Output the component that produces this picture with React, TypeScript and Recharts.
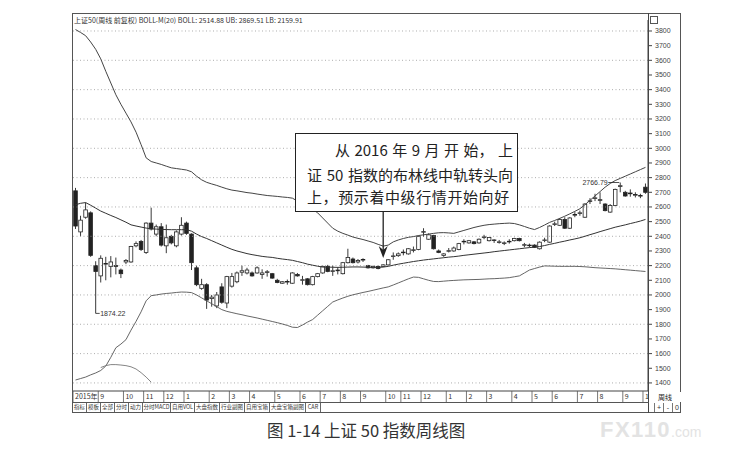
import React from 'react';
import { ComposedChart, Bar, Line, XAxis, YAxis, ReferenceLine, ReferenceDot } from 'recharts';

// SSE 50 weekly candles (index 0 = first week on the left)
const opens = [
  2710, 2430, 2530, 2560, 2200, 2130, 2210, 2195, 2200, 2170,
  2225, 2225, 2335, 2365, 2290, 2490, 2415, 2465, 2335, 2400,
  2335, 2415, 2490, 2415, 2185, 2045, 2070, 1975, 1925, 2055,
  1945, 2060, 2090, 2155, 2150, 2150, 2150, 2140, 2155, 2145,
  2100, 2080, 2088, 2080, 2140, 2100, 2110, 2070, 2125, 2150,
  2195, 2160, 2165, 2145, 2220, 2245, 2225, 2238, 2200, 2185,
  2195, 2195, 2205, 2262, 2268, 2290, 2280, 2305, 2310, 2430,
  2380, 2405, 2300, 2270, 2298, 2300, 2310, 2362, 2355, 2362,
  2355, 2392, 2370, 2375, 2360, 2352, 2362, 2370, 2385, 2340,
  2340, 2340, 2315, 2372, 2360, 2480, 2475, 2515, 2455, 2545,
  2555, 2530, 2640, 2660, 2645, 2620, 2565, 2610, 2740, 2700,
  2690, 2680, 2675, 2735,
];
const highs = [
  2730, 2540, 2630, 2570, 2230, 2270, 2260, 2265, 2255, 2180,
  2245, 2335, 2365, 2375, 2495, 2595, 2480, 2490, 2480, 2410,
  2440, 2530, 2500, 2420, 2200, 2110, 2080, 2000, 2020, 2080,
  2130, 2150, 2160, 2200, 2185, 2160, 2195, 2175, 2170, 2150,
  2110, 2095, 2105, 2155, 2150, 2130, 2115, 2130, 2150, 2200,
  2205, 2200, 2190, 2225, 2315, 2255, 2245, 2250, 2205, 2200,
  2200, 2210, 2245, 2290, 2290, 2310, 2320, 2330, 2405, 2455,
  2420, 2410, 2310, 2285, 2320, 2330, 2355, 2380, 2375, 2368,
  2385, 2410, 2395, 2380, 2375, 2365, 2380, 2390, 2390, 2355,
  2350, 2345, 2365, 2390, 2475, 2500, 2525, 2530, 2530, 2565,
  2575, 2625, 2660, 2690, 2700, 2625, 2620, 2725, 2766.79, 2710,
  2720, 2700, 2690, 2760,
];
const lows = [
  2450, 2400, 2520, 2260, 1874.22, 2085, 2100, 2120, 2140, 2115,
  2210, 2220, 2325, 2300, 2280, 2440, 2400, 2330, 2285, 2345,
  2325, 2405, 2410, 2170, 2060, 2035, 1905, 1920, 1910, 1940,
  1910, 2050, 2080, 2130, 2140, 2125, 2145, 2110, 2125, 2110,
  2080, 2075, 2070, 2075, 2125, 2070, 2065, 2065, 2120, 2145,
  2155, 2130, 2140, 2140, 2215, 2215, 2215, 2225, 2180, 2180,
  2175, 2190, 2200, 2240, 2260, 2270, 2275, 2290, 2305, 2395,
  2375, 2310, 2285, 2260, 2290, 2295, 2305, 2345, 2350, 2345,
  2350, 2380, 2365, 2355, 2350, 2340, 2350, 2365, 2365, 2325,
  2325, 2320, 2310, 2360, 2355, 2470, 2470, 2450, 2450, 2530,
  2540, 2525, 2620, 2640, 2620, 2570, 2560, 2605, 2700, 2670,
  2670, 2665, 2660, 2690,
];
const closes = [
  2470, 2510, 2580, 2270, 2160, 2250, 2215, 2225, 2195, 2145,
  2235, 2330, 2350, 2310, 2490, 2450, 2465, 2340, 2390, 2355,
  2430, 2475, 2420, 2220, 2070, 2070, 1965, 1985, 2000, 1950,
  2125, 2125, 2150, 2165, 2170, 2130, 2185, 2150, 2158, 2115,
  2085, 2090, 2092, 2150, 2130, 2104, 2070, 2125, 2145, 2195,
  2160, 2165, 2170, 2220, 2255, 2220, 2235, 2242, 2185, 2195,
  2180, 2205, 2240, 2266, 2280, 2292, 2315, 2308, 2400, 2432,
  2410, 2315, 2290, 2280, 2302, 2320, 2350, 2366, 2370, 2350,
  2380, 2396, 2392, 2372, 2362, 2355, 2366, 2385, 2370, 2343,
  2338, 2325, 2360, 2375, 2470, 2485, 2515, 2455, 2525, 2548,
  2560, 2620, 2642, 2662, 2650, 2575, 2610, 2720, 2745, 2675,
  2695, 2685, 2678, 2700,
];

// BOLL-M(20) bands
const upperBand = [
  3810, 3790, 3768, 3725, 3675, 3610, 3525, 3445, 3365, 3300,
  3240, 3180, 3110, 3025, 2935, 2910, 2900, 2890, 2878, 2867,
  2862, 2857, 2852, 2840, 2810, 2785, 2768, 2757, 2747, 2735,
  2724, 2715, 2710, 2704, 2698, 2694, 2688, 2683, 2678, 2675,
  2672, 2668, 2665, 2660, 2640, 2620, 2600, 2585, 2560, 2525,
  2490, 2455, 2435, 2420, 2408, 2395, 2386, 2378, 2368, 2358,
  2345, 2333, 2340, 2362, 2375, 2385, 2393, 2398, 2405, 2410,
  2415, 2420, 2424, 2425, 2423, 2420, 2430, 2440, 2450, 2460,
  2468, 2475, 2480, 2483, 2486, 2488, 2490, 2487, 2478, 2467,
  2455, 2446, 2460, 2477, 2495, 2508, 2522, 2537, 2553, 2570,
  2588, 2615, 2645, 2675, 2705, 2735, 2760, 2780, 2795, 2810,
  2825, 2840, 2855, 2870,
];
const midBand = [
  2615, 2625, 2630, 2612, 2592, 2572, 2557, 2542, 2528, 2512,
  2496, 2478, 2470, 2463, 2456, 2451, 2449, 2447, 2446, 2445,
  2445, 2445, 2445, 2435, 2415, 2398, 2385, 2370, 2355, 2340,
  2325, 2311, 2300, 2291, 2282, 2275, 2269, 2263, 2259, 2256,
  2250, 2245, 2241, 2236, 2228, 2220, 2210, 2203, 2196, 2190,
  2190, 2189, 2188, 2189, 2190, 2191, 2191, 2190, 2189, 2188,
  2188, 2190, 2195, 2203, 2210, 2216, 2222, 2228, 2233, 2238,
  2242, 2246, 2250, 2254, 2258, 2261, 2265, 2270, 2274, 2278,
  2282, 2286, 2290, 2295, 2299, 2303, 2307, 2311, 2315, 2319,
  2323, 2326, 2330, 2337, 2345, 2352, 2360, 2367, 2375, 2382,
  2390, 2400, 2411, 2421, 2432, 2442, 2452, 2462, 2470, 2478,
  2487, 2495, 2504, 2515,
];
const lowerBand = [
  1420, 1430, 1440, 1455, 1468, 1485, 1515, 1575, 1640, 1665,
  1695, 1760, 1820, 1885, 1960, 1995, 2000, 2006, 2010, 2013,
  2017, 2020, 2019, 2016, 2000, 1980, 1960, 1940, 1920, 1900,
  1888, 1880, 1872, 1865, 1857, 1850, 1843, 1835, 1827, 1819,
  1811, 1802, 1792, 1780, 1778, 1795, 1815, 1832, 1862, 1892,
  1922, 1952, 1966, 1979, 1991, 2001, 2009, 2017, 2024, 2032,
  2040, 2048, 2055, 2068, 2082, 2096, 2110, 2122, 2120, 2110,
  2100, 2092, 2091, 2094, 2097, 2099, 2101, 2103, 2104, 2105,
  2106, 2108, 2110, 2111, 2113, 2115, 2118, 2124, 2130, 2150,
  2170, 2180, 2190, 2198, 2197, 2196, 2195, 2195, 2195, 2195,
  2194, 2192, 2189, 2186, 2184, 2182, 2180, 2178, 2175, 2172,
  2169, 2166, 2163, 2160,
];
// short leftover band segment at the lower left
const earlyBandStart = 5;
const earlyBand = [1505, 1518, 1525, 1525, 1522, 1518, 1510, 1495, 1470, 1440, 1405];

const monthIdx = [0, 5, 10, 14, 18, 22, 27, 31, 35, 40, 45, 49, 53, 57, 62, 65, 69, 74, 78, 82, 87, 91, 95, 100, 104, 109, 113];
const monthNames = ['2015年', '9', '10', '11', '12', '1', '2', '3', '4', '5', '6', '7', '8', '9', '10', '11', '12', '1', '2', '3', '4', '5', '6', '7', '8', '9', '10'];

const priceTicks = [
  1400, 1500, 1600, 1700, 1800, 1900, 2000, 2100, 2200, 2300, 2400, 2500, 2600,
  2700, 2800, 2900, 3000, 3100, 3200, 3300, 3400, 3500, 3600, 3700, 3800,
];
const gridLevels = [1400, 1600, 1800, 2000, 2200, 2400, 2600, 2800, 3000, 3200, 3400, 3600, 3800];

const tabs = ['指标', '模板', '全部', '分时', '动力', '分时MACD', '自用VOL', '大盘指数', '行业副图', '自用宝箱', '大盘宝箱副图', 'CAR'];
const tabWidths = [14, 14, 14, 14, 14, 28, 24, 25, 25, 25, 36, 15];

const W = 747;
const H = 470;
const INK = '#222';
const CJK = '"Noto Sans CJK SC", "Noto Sans", sans-serif';

const rows = opens.map((o, i) => ({
  i,
  o,
  h: highs[i],
  l: lows[i],
  c: closes[i],
  range: [lows[i], highs[i]],
  ub: upperBand[i],
  mb: midBand[i],
  lb: lowerBand[i],
  eb: i >= earlyBandStart && i < earlyBandStart + earlyBand.length ? earlyBand[i - earlyBandStart] : null,
}));

function Candle(props: any) {
  const { x, y, width, height, payload } = props;
  if (!payload || x == null) return null;
  const { o, h, l, c } = payload;
  const top = Math.min(y, y + height);
  const hh = Math.abs(height);
  const span = h - l || 1;
  const toY = (v: number) => top + ((h - v) / span) * hh;
  const cx = x + width / 2;
  const bTop = toY(Math.max(o, c));
  const bBot = toY(Math.min(o, c));
  const up = c >= o;
  const bw = 3.6;
  return (
    <g>
      <line x1={cx} x2={cx} y1={top} y2={bTop} stroke={INK} strokeWidth={0.9} />
      <line x1={cx} x2={cx} y1={bBot} y2={top + hh} stroke={INK} strokeWidth={0.9} />
      <rect
        x={cx - bw / 2}
        y={bTop}
        width={bw}
        height={Math.max(bBot - bTop, 0.6)}
        fill={up ? '#fff' : INK}
        stroke={INK}
        strokeWidth={0.8}
      />
    </g>
  );
}

function MonthTick(props: any) {
  const { x, y, payload } = props;
  const k = monthIdx.indexOf(payload.value);
  const left = x - 2.5;
  return (
    <g>
      <line x1={left} x2={left} y1={y} y2={y + 11} stroke="#555" strokeWidth={0.8} />
      <text x={left + 2} y={y + 8} fontSize={7} fill="#333" fontFamily={CJK}>
        {monthNames[k]}
      </text>
    </g>
  );
}

export default function App() {
  return (
    <div
      style={{
        position: 'absolute',
        left: 0,
        top: 0,
        width: W,
        height: H,
        background: '#fff',
        overflow: 'hidden',
        fontFamily: '"Liberation Sans", Arial, sans-serif',
      }}
    >
      <div style={{ position: 'absolute', left: 0, top: 0 }}>
        <ComposedChart
          width={W}
          height={H}
          data={rows}
          margin={{ top: 20, right: 67, bottom: 68, left: 73 }}
          barCategoryGap={0}
          barGap={0}
        >
          {gridLevels.map((v) => (
            <ReferenceLine key={v} y={v} stroke="#999" strokeDasharray="1 2.5" strokeWidth={0.8} />
          ))}
          <XAxis
            dataKey="i"
            type="category"
            ticks={monthIdx}
            interval={0}
            tick={(p: any) => <MonthTick {...p} />}
            tickLine={false}
            tickSize={0}
            tickMargin={0}
            axisLine={{ stroke: '#444' }}
            height={11}
          />
          <YAxis
            orientation="right"
            domain={[1345, 3875]}
            allowDataOverflow
            ticks={priceTicks}
            interval={0}
            width={32}
            tickSize={4}
            tickMargin={3}
            tick={{ fontSize: 7, fill: '#444' }}
            tickLine={{ stroke: '#444' }}
            axisLine={{ stroke: '#444' }}
          />
          <Line type="linear" dataKey="ub" stroke="#444" strokeWidth={1} dot={false} isAnimationActive={false} />
          <Line type="linear" dataKey="mb" stroke="#333" strokeWidth={1} dot={false} isAnimationActive={false} />
          <Line type="linear" dataKey="lb" stroke="#555" strokeWidth={0.9} dot={false} isAnimationActive={false} />
          <Line type="linear" dataKey="eb" stroke="#777" strokeWidth={0.9} dot={false} isAnimationActive={false} />
          <Bar dataKey="range" shape={(p: any) => <Candle {...p} />} isAnimationActive={false} />
          <ReferenceDot
            x={4}
            y={1874.22}
            r={0}
            ifOverflow="visible"
            shape={(p: any) => (
              <g>
                <line x1={p.cx} x2={p.cx + 4} y1={p.cy} y2={p.cy} stroke={INK} strokeWidth={0.8} />
                <text x={p.cx + 4.5} y={p.cy + 2.5} fontSize={7} fill="#333">1874.22</text>
              </g>
            )}
          />
          <ReferenceDot
            x={108}
            y={2766.79}
            r={0}
            ifOverflow="visible"
            shape={(p: any) => (
              <g>
                <line x1={p.cx - 12} x2={p.cx - 1} y1={p.cy} y2={p.cy} stroke={INK} strokeWidth={0.8} />
                <text x={p.cx - 12.5} y={p.cy + 2.5} fontSize={7} fill="#333" textAnchor="end">2766.79</text>
              </g>
            )}
          />
          <ReferenceDot
            x={61}
            y={2252}
            r={0}
            ifOverflow="visible"
            shape={(p: any) => (
              <g>
                <line x1={p.cx} x2={p.cx} y1={p.cy - 46} y2={p.cy - 6} stroke={INK} strokeWidth={1.3} />
                <polygon
                  points={`${p.cx - 4.5},${p.cy - 12} ${p.cx},${p.cy - 8} ${p.cx + 4.5},${p.cy - 12} ${p.cx},${p.cy}`}
                  fill={INK}
                />
              </g>
            )}
          />
        </ComposedChart>
      </div>

      {/* software window frame */}
      <div style={{ position: 'absolute', left: 72, top: 13, width: 609, height: 400, border: '1px solid #555', boxSizing: 'border-box' }} />
      <div style={{ position: 'absolute', left: 648, top: 13, width: 0, height: 400, borderLeft: '1px solid #444' }} />
      <div style={{ position: 'absolute', left: 72, top: 402, width: 577, height: 0, borderTop: '1px solid #555' }} />
      <div style={{ position: 'absolute', left: 650, top: 16, width: 6, height: 6, border: '1px solid #555' }} />

      {/* header */}
      <div
        style={{
          position: 'absolute',
          left: 74,
          top: 16,
          fontSize: 7,
          lineHeight: '8px',
          color: '#333',
          fontFamily: CJK,
          whiteSpace: 'nowrap',
          background: '#fff',
        }}
      >
        上证50(周线 前复权) BOLL-M(20) BOLL: 2514.88 UB: 2869.51 LB: 2159.91
      </div>

      {/* tab row */}
      <div style={{ position: 'absolute', left: 73, top: 403, height: 9, display: 'flex', fontFamily: CJK, fontSize: 5.5, lineHeight: '9px', color: '#333' }}>
        {tabs.map((t, k) => (
          <div key={t} style={{ width: tabWidths[k], flex: 'none', borderRight: '1px solid #666', textAlign: 'center', boxSizing: 'border-box', whiteSpace: 'nowrap' }}>
            {t}
          </div>
        ))}
      </div>

      {/* right bottom corner */}
      <div style={{ position: 'absolute', left: 649, top: 392, width: 32, height: 10, fontFamily: CJK, fontSize: 7, lineHeight: '10px', color: '#222', textAlign: 'center', background: '#fff' }}>
        周线
      </div>
      <div style={{ position: 'absolute', left: 654, top: 403, height: 9, display: 'flex', fontSize: 7, lineHeight: '9px', color: '#333' }}>
        {['+', '-', '0'].map((s) => (
          <div key={s} style={{ width: 8, textAlign: 'center', borderLeft: '1px solid #777' }}>{s}</div>
        ))}
      </div>

      {/* annotation box */}
      <div
        style={{
          position: 'absolute',
          left: 295,
          top: 133,
          width: 223,
          height: 79,
          border: '1.5px solid #222',
          boxSizing: 'border-box',
          background: '#fff',
          fontFamily: CJK,
          fontSize: 15,
          color: '#222',
        }}
      >
        <div style={{ position: 'absolute', left: 39, top: 7, width: 178, display: 'flex', justifyContent: 'space-between', lineHeight: '18px' }}>
          {['从', '2016', '年', '9', '月', '开', '始，', '上'].map((s, k) => (
            <span key={k}>{s}</span>
          ))}
        </div>
        <div style={{ position: 'absolute', left: 11, top: 32, width: 206, display: 'flex', justifyContent: 'space-between', lineHeight: '18px' }}>
          {['证', '50', '指数的布林线中轨转头向'].map((s, k) => (
            <span key={k}>{s}</span>
          ))}
        </div>
        <div style={{ position: 'absolute', left: 11, top: 54, width: 206, lineHeight: '18px', letterSpacing: 0.6, whiteSpace: 'nowrap' }}>
          上，预示着中级行情开始向好
        </div>
      </div>

      {/* caption */}
      <div style={{ position: 'absolute', left: 267, top: 421, fontFamily: CJK, fontSize: 16.5, lineHeight: '18px', color: '#333', whiteSpace: 'nowrap' }}>
        图 1-14 上证 50 指数周线图
      </div>

      {/* watermark */}
      <div style={{ position: 'absolute', left: 600, top: 417, color: '#e3e3e3', fontFamily: '"Liberation Sans", Arial, sans-serif', fontWeight: 700, whiteSpace: 'nowrap' }}>
        <span style={{ fontSize: 22, letterSpacing: 1.5 }}>FX110</span>
        <span style={{ fontSize: 14, fontWeight: 400 }}>.com</span>
      </div>
    </div>
  );
}
